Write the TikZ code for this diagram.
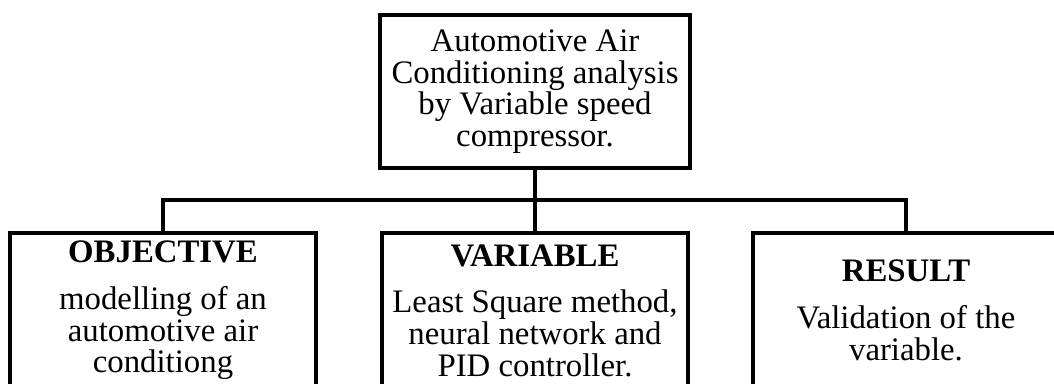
\documentclass[tikz,border=0pt]{standalone}
\usepackage{fontspec}
\setmainfont{Liberation Serif}
\begin{document}
\begin{tikzpicture}[x=1pt,y=-1pt,
  box/.style={draw, line width=4.2pt, minimum width=306pt, inner sep=0pt,
    align=center, font=\fontsize{32.8}{31.7}\selectfont},
  link/.style={line width=4.2pt}]
\useasboundingbox (0,0) rectangle (1054,383);
\clip (0,0) rectangle (1054,383);
\node[box, minimum width=310pt, minimum height=153pt] (top) at (535,91.5)
  {Automotive Air\\Conditioning analysis\\by Variable speed\\compressor.};
\node[box, minimum height=155pt] (obj) at (163,310.5)
  {\textbf{OBJECTIVE}\\[15pt]modelling of an\\automotive air\\conditiong};
\node[box, minimum height=155pt] (var) at (535,310.5)
  {\textbf{VARIABLE}\\[15pt]Least Square method,\\neural network and\\PID controller.};
\node[box, minimum height=155pt] (res) at (906,310.5)
  {\textbf{RESULT}\\[15pt]Validation of the\\variable.};
\coordinate (bus) at (535,200);
\draw[link] (top.south) -- (bus);
\draw[link] (obj.north) -- (obj.north |- bus) -- (res.north |- bus) -- (res.north);
\draw[link] (bus) -- (var.north);
\end{tikzpicture}
\end{document}
